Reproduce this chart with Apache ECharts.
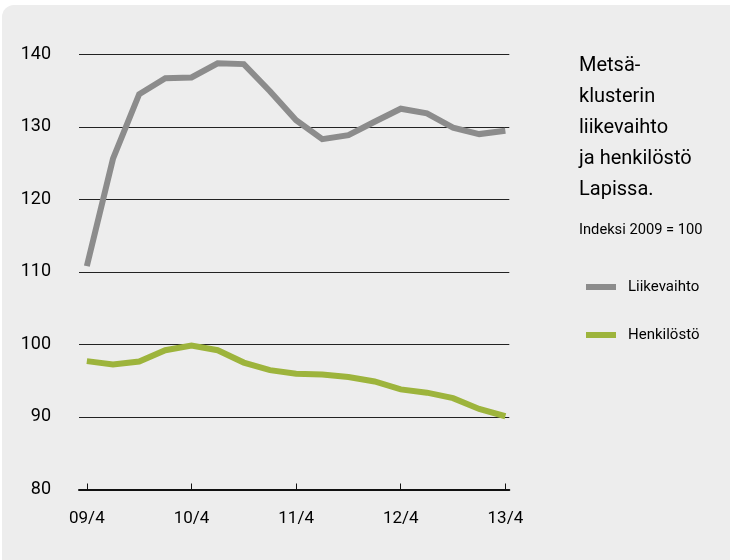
<!DOCTYPE html>
<html>
<head>
<meta charset="utf-8">
<script src="https://cdn.jsdelivr.net/npm/echarts@6/dist/echarts.min.js"></script>
<style>
html,body{margin:0;padding:0;background:#fff;}
#chart{width:730px;height:560px;}
</style>
</head>
<body>
<div id="chart"></div>
<script>
// Quarterly periods, 09/4 ... 13/4
const quarters = ['09/4','10/1','10/2','10/3','10/4','11/1','11/2','11/3','11/4','12/1','12/2','12/3','12/4','13/1','13/2','13/3','13/4'];
const tickLabels = ['09/4','10/4','11/4','12/4','13/4'];
const liikevaihto = [110.8,125.6,134.5,136.7,136.8,138.75,138.65,134.9,130.9,128.3,128.85,130.7,132.5,131.85,129.9,129.0,129.45];
const henkilosto = [97.7,97.25,97.65,99.2,99.85,99.2,97.5,96.45,95.95,95.85,95.5,94.9,93.8,93.35,92.6,91.1,90.1];
const yTicks = [80,90,100,110,120,130,140];
const titleLines = ['Metsä-','klusterin','liikevaihto','ja henkilöstö','Lapissa.'];
const subtitle = 'Indeksi 2009 = 100';

const FONT = 'Roboto, "Liberation Sans", sans-serif';
const tickPositions = tickLabels.map(t => quarters.indexOf(t));

const chart = echarts.init(document.getElementById('chart'));
chart.setOption({
  backgroundColor: '#ffffff',
  animation: false,
  textStyle: { fontFamily: FONT },
  graphic: [
    { type: 'rect', z: -10, shape: { x: 2, y: 5, width: 760, height: 570, r: 12 }, style: { fill: '#ededed' } },
    { type: 'text', left: 579, top: 51, style: { text: titleLines.join('\n'), font: '20px ' + FONT, lineHeight: 30.8, fill: '#000' } },
    { type: 'text', left: 579, top: 223, style: { text: subtitle, font: '14.7px ' + FONT, fill: '#000' } }
  ],
  legend: {
    orient: 'vertical',
    left: 581,
    top: 274,
    icon: 'rect',
    itemWidth: 30,
    itemHeight: 6,
    itemGap: 32,
    textStyle: { fontFamily: FONT, fontSize: 15, color: '#000', lineHeight: 16, padding: [0, 0, 0, 7] },
    data: ['Liikevaihto', 'Henkilöstö']
  },
  grid: { left: 79, right: 220.7, top: 54.3, bottom: 70.5, containLabel: false },
  xAxis: {
    type: 'value',
    min: -0.3,
    max: 16.15,
    axisLine: { show: true, onZero: false, lineStyle: { color: '#111', width: 2 } },
    axisTick: { show: true, inside: true, length: 6, customValues: tickPositions, lineStyle: { color: '#111', width: 1 } },
    axisLabel: {
      customValues: tickPositions,
      formatter: v => quarters[Math.round(v)],
      fontFamily: FONT, fontSize: 17, color: '#000', margin: 21
    },
    splitLine: { show: false }
  },
  yAxis: {
    type: 'value',
    min: yTicks[0],
    max: yTicks[yTicks.length - 1],
    interval: 10,
    axisLine: { show: false },
    axisTick: { show: false },
    axisLabel: { fontFamily: FONT, fontSize: 18, color: '#000', margin: 28 },
    splitLine: { show: true, lineStyle: { color: '#222', width: 1 } }
  },
  series: [
    {
      name: 'Liikevaihto', type: 'line', symbol: 'none',
      color: '#8c8c8c',
      lineStyle: { width: 6, color: '#8c8c8c', join: 'miter' },
      data: liikevaihto.map((v, i) => [i, v])
    },
    {
      name: 'Henkilöstö', type: 'line', symbol: 'none',
      color: '#9db43c',
      lineStyle: { width: 6, color: '#9db43c', join: 'miter' },
      data: henkilosto.map((v, i) => [i, v])
    }
  ]
});
</script>
</body>
</html>
